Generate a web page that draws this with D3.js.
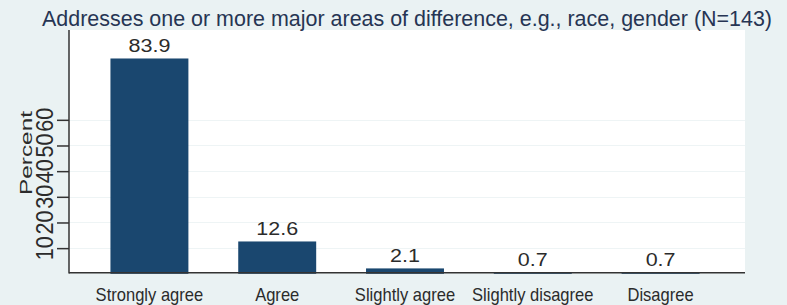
<!DOCTYPE html>
<html>
<head>
<meta charset="utf-8">
<script src="https://cdn.jsdelivr.net/npm/d3@7"></script>
<style>
  body { margin: 0; background: #EAF2F3; }
  svg { display: block; font-family: "Liberation Sans", Arial, sans-serif; }
</style>
</head>
<body>
<svg id="chart" width="787" height="305"></svg>
<script>
// data
var categories = ["Strongly agree", "Agree", "Slightly agree", "Slightly disagree", "Disagree"];
var percents = [83.9, 12.6, 2.1, 0.7, 0.7];
var yTicks = [10, 20, 30, 40, 50, 60];
var titleText = "Addresses one or more major areas of difference, e.g., race, gender (N=143)";

// colors
var bgColor = "#EAF2F3";
var barColor = "#1A476F";
var gridColor = "#EEF4F5";
var axisColor = "#333333";
var textColor = "#2b2b2b";

var svg = d3.select("#chart");

var plotLeft = 69, plotRight = 745, plotTop = 30, plotBottom = 273;

svg.append("rect")
    .attr("width", 787).attr("height", 305)
    .attr("fill", bgColor);

svg.append("rect")
    .attr("x", plotLeft).attr("y", plotTop)
    .attr("width", plotRight - plotLeft).attr("height", plotBottom - plotTop)
    .attr("fill", "#ffffff");

var x = d3.scaleBand()
    .domain(categories)
    .range([plotLeft - 2, plotRight - 2])
    .paddingInner(0.39)
    .paddingOuter(0.34);

var y = d3.scaleLinear()
    .domain([0, 95])
    .range([273.8, 30]);

// gridlines
svg.append("g")
    .selectAll("line")
    .data(yTicks)
    .enter()
    .append("line")
    .attr("x1", plotLeft).attr("x2", plotRight)
    .attr("y1", function(d) { return Math.round(y(d)) + 0.5; })
    .attr("y2", function(d) { return Math.round(y(d)) + 0.5; })
    .attr("stroke", gridColor)
    .attr("stroke-width", 1);

// bars
svg.append("g")
    .selectAll("rect")
    .data(percents)
    .enter()
    .append("rect")
    .attr("x", function(d, i) { return x(categories[i]); })
    .attr("width", x.bandwidth())
    .attr("y", function(d) { return y(d); })
    .attr("height", function(d) { return y(0) - y(d); })
    .attr("fill", barColor);

// bar value labels (stretched a bit wider like the original)
svg.append("g")
    .selectAll("text")
    .data(percents)
    .enter()
    .append("text")
    .attr("transform", function(d, i) {
        return "translate(" + (x(categories[i]) + x.bandwidth() / 2) + "," + (y(d) - 6.5) + ") scale(1.15,1)";
    })
    .attr("text-anchor", "middle")
    .attr("font-size", 18.7)
    .attr("fill", textColor)
    .text(function(d) { return d.toFixed(1); });

// y axis ticks
var yAxis = d3.axisLeft(y)
    .tickValues(yTicks)
    .tickSize(12)
    .tickFormat("");
var yg = svg.append("g")
    .attr("transform", "translate(" + plotLeft + ",0)")
    .call(yAxis);
yg.select(".domain").remove();
yg.selectAll(".tick line").attr("stroke", axisColor).attr("stroke-width", 1.5);

// rotated tick labels, they run together into one string
svg.append("g")
    .selectAll("text")
    .data(yTicks)
    .enter()
    .append("text")
    .attr("transform", function(d) {
        return "translate(53," + y(d) + ") rotate(-90) scale(0.9,1)";
    })
    .attr("text-anchor", "middle")
    .attr("font-size", 24)
    .attr("fill", textColor)
    .text(function(d) { return d; });

// axis lines
svg.append("line")
    .attr("x1", plotLeft).attr("x2", plotLeft)
    .attr("y1", plotTop).attr("y2", 273.5)
    .attr("stroke", axisColor).attr("stroke-width", 1.5);
svg.append("line")
    .attr("x1", plotLeft).attr("x2", plotRight)
    .attr("y1", 272.75).attr("y2", 272.75)
    .attr("stroke", axisColor).attr("stroke-width", 1.5);

// x labels
svg.append("g")
    .selectAll("text")
    .data(categories)
    .enter()
    .append("text")
    .attr("transform", function(d) {
        return "translate(" + (x(d) + x.bandwidth() / 2) + ",301) scale(0.92,1)";
    })
    .attr("text-anchor", "middle")
    .attr("font-size", 18)
    .attr("fill", textColor)
    .text(function(d) { return d; });

// y title
svg.append("text")
    .attr("transform", "translate(32,153) rotate(-90)")
    .attr("text-anchor", "middle")
    .attr("font-size", 17)
    .attr("textLength", 84)
    .attr("lengthAdjust", "spacingAndGlyphs")
    .attr("fill", textColor)
    .text("Percent");

// title
svg.append("text")
    .attr("transform", "translate(42,26) scale(1,1.1)")
    .attr("font-size", 20)
    .attr("textLength", 730)
    .attr("lengthAdjust", "spacingAndGlyphs")
    .attr("fill", "#263553")
    .text(titleText);
</script>
</body>
</html>
